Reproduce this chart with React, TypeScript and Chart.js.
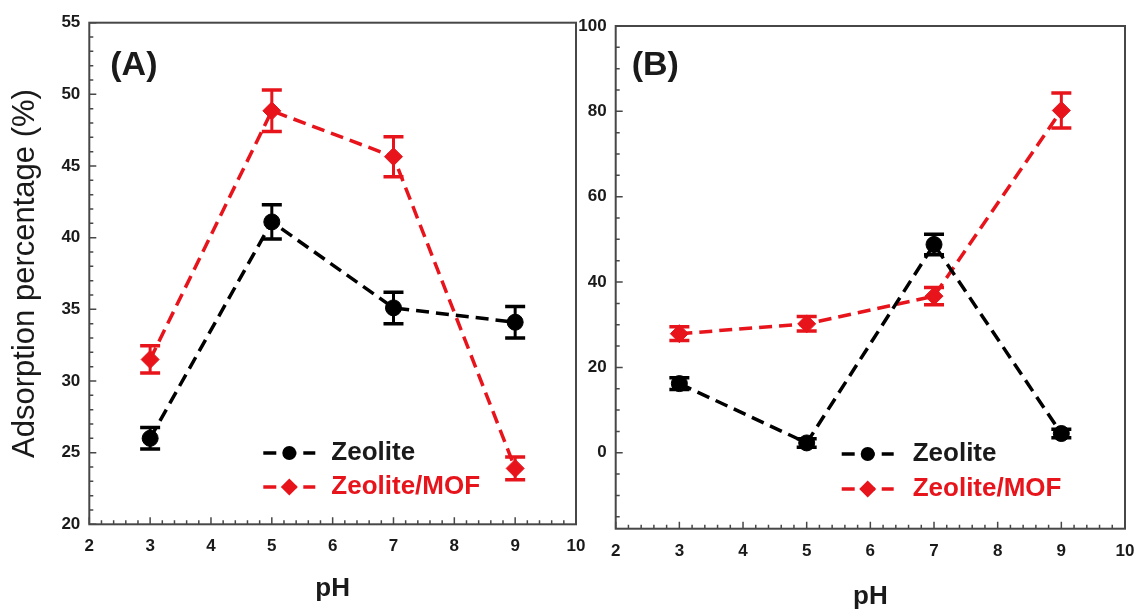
import React, { useEffect, useRef } from "react";
import { Chart, registerables } from "chart.js";

Chart.register(...registerables);

// ---------- data ----------
const pH = [3, 5, 7, 9];
const xTicks = [2, 3, 4, 5, 6, 7, 8, 9, 10];
const leftYTicks = [20, 25, 30, 35, 40, 45, 50, 55];
const rightYTicks = [0, 20, 40, 60, 80, 100];

const zeoliteA = [26.0, 41.1, 35.1, 34.1];
const zeoliteAErr = [0.75, 1.2, 1.1, 1.1];
const mofA = [31.5, 48.85, 45.65, 23.9];
const mofAErr = [0.95, 1.45, 1.4, 0.8];

const zeoliteB = [16.2, 2.3, 48.8, 4.5];
const zeoliteBErr = [1.4, 1.0, 2.4, 1.0];
const mofB = [27.9, 30.2, 36.7, 80.2];
const mofBErr = [1.6, 1.7, 2.0, 4.1];

const seriesNames = ["Zeolite", "Zeolite/MOF"];
const panelLabels = ["(A)", "(B)"];
const xTitle = "pH";
const yTitle = "Adsorption percentage (%)";

// ---------- styles ----------
const FAMILY = "'Liberation Sans', Arial, Helvetica, sans-serif";
const BLACK = "#000000";
const RED = "#e8141c";
const TEXT = "#1a1a1a";
const FRAME = "#474747";
const DASH = [13, 7];

type PanelCfg = {
  zeo: number[];
  zeoErr: number[];
  mof: number[];
  mofErr: number[];
  yMin: number;
  yMax: number;
  yTicks: number[];
  minorY: { start: number; end: number; step: number; major: number };
  padding: { left: number; top: number; right: number; bottom: number };
  yWidth: number;
  xHeight: number;
  xTitlePad: number;
  showYTitle: boolean;
  label: string;
  labelPos: { dx: number; dy: number };
  legend: { dx0: number; dx1: number; textDx: number; row0: number; row1: number };
};

function makeDecor(cfg: PanelCfg) {
  return {
    id: "decor",
    afterDatasetsDraw(chart: any) {
      const ctx: CanvasRenderingContext2D = chart.ctx;
      const { left, right, top, bottom } = chart.chartArea;
      const xs = chart.scales.x;
      const ys = chart.scales.y;
      ctx.save();
      ctx.setLineDash([]);
      // error bars
      const errs = [cfg.zeoErr, cfg.mofErr];
      chart.data.datasets.forEach((ds: any, i: number) => {
        ctx.strokeStyle = ds.borderColor;
        ds.data.forEach((p: any, j: number) => {
          const px = xs.getPixelForValue(p.x);
          const y1 = ys.getPixelForValue(p.y + errs[i][j]);
          const y2 = ys.getPixelForValue(p.y - errs[i][j]);
          ctx.lineWidth = 3;
          ctx.beginPath();
          ctx.moveTo(px, y1);
          ctx.lineTo(px, y2);
          ctx.stroke();
          ctx.lineWidth = 3.5;
          ctx.beginPath();
          ctx.moveTo(px - 10, y1);
          ctx.lineTo(px + 10, y1);
          ctx.moveTo(px - 10, y2);
          ctx.lineTo(px + 10, y2);
          ctx.stroke();
        });
      });

      // frame
      ctx.strokeStyle = FRAME;
      ctx.lineWidth = 2;
      ctx.strokeRect(left, top, right - left, bottom - top);

      // x ticks (inward)
      ctx.lineWidth = 1.5;
      ctx.beginPath();
      for (let k = 0; k <= 40; k++) {
        const v = 2 + k * 0.2;
        const px = xs.getPixelForValue(v);
        const len = k % 5 === 0 ? 7 : 4;
        ctx.moveTo(px, bottom);
        ctx.lineTo(px, bottom - len);
      }
      // y ticks (inward)
      const m = cfg.minorY;
      const n = Math.round((m.end - m.start) / m.step);
      for (let k = 0; k <= n; k++) {
        const v = m.start + k * m.step;
        const py = ys.getPixelForValue(v);
        const len = Math.abs(v % m.major) < 1e-6 ? 7 : 4;
        ctx.moveTo(left, py);
        ctx.lineTo(left + len, py);
      }
      ctx.stroke();

      // panel label
      ctx.fillStyle = TEXT;
      ctx.font = `bold 34px ${FAMILY}`;
      ctx.textAlign = "left";
      ctx.textBaseline = "middle";
      ctx.fillText(cfg.label, left + cfg.labelPos.dx, top + cfg.labelPos.dy);

      // legend
      const lg = cfg.legend;
      const rows = [lg.row0, lg.row1];
      chart.data.datasets.forEach((ds: any, i: number) => {
        const y = rows[i];
        const x0 = left + lg.dx0;
        const x1 = left + lg.dx1;
        ctx.strokeStyle = ds.borderColor;
        ctx.lineWidth = 3.5;
        ctx.setLineDash(DASH);
        ctx.lineDashOffset = 0;
        ctx.beginPath();
        ctx.moveTo(x0, y);
        ctx.lineTo(x1, y);
        ctx.stroke();
        ctx.setLineDash([]);
        const cx = (x0 + x1) / 2;
        ctx.fillStyle = ds.borderColor;
        ctx.beginPath();
        if (ds.pointStyle === "rectRot") {
          const r = 8.5;
          ctx.moveTo(cx, y - r);
          ctx.lineTo(cx + r, y);
          ctx.lineTo(cx, y + r);
          ctx.lineTo(cx - r, y);
          ctx.closePath();
        } else {
          ctx.arc(cx, y, 7, 0, Math.PI * 2);
        }
        ctx.fill();
        ctx.font = `bold 26px ${FAMILY}`;
        ctx.textAlign = "left";
        ctx.textBaseline = "middle";
        ctx.fillStyle = i === 0 ? TEXT : ds.borderColor;
        ctx.fillText(ds.label, left + lg.textDx, y);
      });
      ctx.restore();
    },
  };
}

function buildChart(canvas: HTMLCanvasElement, cfg: PanelCfg) {
  const tickFont = { family: FAMILY, size: 17, weight: "bold" as const };
  return new Chart(canvas, {
    type: "line",
    data: {
      datasets: [
        {
          label: seriesNames[0],
          data: pH.map((x, i) => ({ x, y: cfg.zeo[i] })),
          borderColor: BLACK,
          backgroundColor: BLACK,
          borderDash: DASH,
          borderWidth: 3.5,
          pointStyle: "circle",
          pointRadius: 8,
          pointBackgroundColor: BLACK,
          pointBorderColor: BLACK,
          pointBorderWidth: 1,
          tension: 0,
          fill: false,
        },
        {
          label: seriesNames[1],
          data: pH.map((x, i) => ({ x, y: cfg.mof[i] })),
          borderColor: RED,
          backgroundColor: RED,
          borderDash: DASH,
          borderWidth: 3.5,
          pointStyle: "rectRot",
          pointRadius: 9,
          pointBackgroundColor: RED,
          pointBorderColor: RED,
          pointBorderWidth: 1,
          tension: 0,
          fill: false,
        },
      ],
    },
    options: {
      responsive: false,
      animation: false,
      devicePixelRatio: 1,
      layout: { padding: cfg.padding },
      plugins: {
        legend: { display: false },
        tooltip: { enabled: false },
        title: { display: false },
      },
      scales: {
        x: {
          type: "linear",
          min: 2,
          max: 10,
          grid: { display: false, drawTicks: false },
          border: { display: false },
          afterBuildTicks: (s: any) => {
            s.ticks = xTicks.map((v) => ({ value: v }));
          },
          afterFit: (s: any) => {
            s.height = cfg.xHeight;
            s.paddingLeft = 0;
            s.paddingRight = 0;
          },
          ticks: {
            padding: 12,
            font: tickFont,
            color: TEXT,
            maxRotation: 0,
            autoSkip: false,
          },
          title: {
            display: true,
            text: xTitle,
            font: { family: FAMILY, size: 26, weight: "bold" },
            color: TEXT,
            padding: { top: 0, bottom: cfg.xTitlePad },
          },
        },
        y: {
          type: "linear",
          min: cfg.yMin,
          max: cfg.yMax,
          grid: { display: false, drawTicks: false },
          border: { display: false },
          afterBuildTicks: (s: any) => {
            s.ticks = cfg.yTicks.map((v) => ({ value: v }));
          },
          afterFit: (s: any) => {
            s.width = cfg.yWidth;
            s.paddingTop = 0;
            s.paddingBottom = 0;
          },
          ticks: {
            padding: 9,
            font: tickFont,
            color: TEXT,
            autoSkip: false,
          },
          title: {
            display: cfg.showYTitle,
            text: yTitle,
            font: { family: FAMILY, size: 31, weight: "normal" },
            color: TEXT,
            padding: { top: 6.4, bottom: 0 },
          },
        },
      },
    } as any,
    plugins: [makeDecor(cfg) as any],
  });
}

const W = 1135;
const H = 613;

const panelA: PanelCfg = {
  zeo: zeoliteA,
  zeoErr: zeoliteAErr,
  mof: mofA,
  mofErr: mofAErr,
  yMin: 20,
  yMax: 55,
  yTicks: leftYTicks,
  minorY: { start: 20, end: 55, step: 1, major: 5 },
  padding: { left: 0, top: 22.7, right: W - 576, bottom: 0 },
  yWidth: 89.3,
  xHeight: H - 524.3,
  xTitlePad: 8.4,
  showYTitle: true,
  label: panelLabels[0],
  labelPos: { dx: 21, dy: 43 },
  legend: { dx0: 174, dx1: 226, textDx: 242, row0: 453, row1: 487 },
};

const panelB: PanelCfg = {
  zeo: zeoliteB,
  zeoErr: zeoliteBErr,
  mof: mofB,
  mofErr: mofBErr,
  yMin: -17.8,
  yMax: 100,
  yTicks: rightYTicks,
  minorY: { start: -15, end: 100, step: 5, major: 20 },
  padding: { left: 0, top: 26, right: W - 1125.7, bottom: 0 },
  yWidth: 615.7,
  xHeight: H - 528.7,
  xTitlePad: 0.8,
  showYTitle: false,
  label: panelLabels[1],
  labelPos: { dx: 16, dy: 40 },
  legend: { dx0: 226, dx1: 278, textDx: 297, row0: 454, row1: 489 },
};

export default function App() {
  const refA = useRef<HTMLCanvasElement | null>(null);
  const refB = useRef<HTMLCanvasElement | null>(null);

  useEffect(() => {
    const a = buildChart(refA.current!, panelA);
    const b = buildChart(refB.current!, panelB);
    return () => {
      a.destroy();
      b.destroy();
    };
  }, []);

  const canvasStyle: React.CSSProperties = {
    position: "absolute",
    left: 0,
    top: 0,
    width: W,
    height: H,
  };

  return (
    <div
      style={{
        position: "fixed",
        left: 0,
        top: 0,
        width: W,
        height: H,
        overflow: "hidden",
        background: "#ffffff",
      }}
    >
      <canvas ref={refA} width={W} height={H} style={canvasStyle} />
      <canvas ref={refB} width={W} height={H} style={canvasStyle} />
    </div>
  );
}
